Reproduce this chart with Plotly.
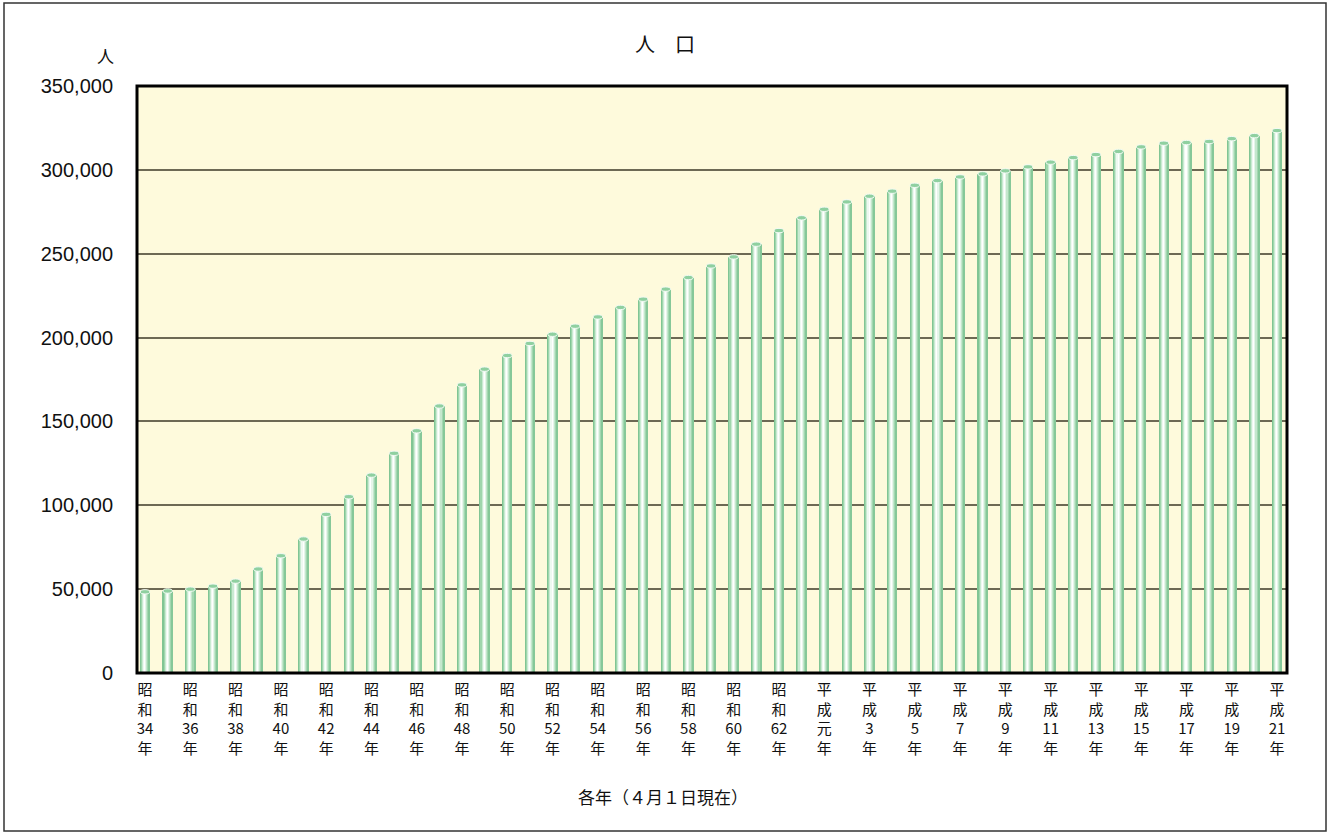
import plotly.graph_objects as go

# 人口 (各年4月1日現在)
years = (
    [f"昭和{n}年" for n in range(34, 64)]
    + ["平成元年"] + [f"平成{n}年" for n in range(2, 22)]
)
population = [
    48400, 48900, 50000, 51800, 54800, 62000, 69900, 79900, 94600, 105100,
    118000, 131000, 144400, 159200, 171800, 181200, 189300, 196500, 202000, 206800,
    212300, 218000, 222900, 228900, 235800, 242700, 248100, 255700, 263800, 271400,
    276500, 280900, 284300, 287300, 290800, 293600, 295800, 297600, 299400, 301800,
    304600, 307300, 309100, 311000, 313700, 315900, 316300, 316900, 318600, 320400,
    323400,
]
y_ticks = [0, 50000, 100000, 150000, 200000, 250000, 300000, 350000]

W, H = 1328, 833
M_L, M_R, M_T, M_B = 137, 41, 86, 160
PW, PH = W - M_L - M_R, H - M_T - M_B


def px(xp, yp):
    """Pixel position -> paper coordinates."""
    return (xp - M_L) / PW, (H - M_B - yp) / PH


xs = list(range(len(years)))


def stacked(label):
    # 昭和34年 -> 昭/和/34/年 (vertical label)
    era, rest = label[:2], label[2:-1]
    return "<br>".join([era[0], era[1], rest, "年"])


tick_vals = xs[::2]
tick_text = [stacked(years[i]) for i in tick_vals]

# cylinder shading, left to right
stripe_colors = ["#80c594", "#9fd6ac", "#c9ead2", "#eef9f1", "#ffffff",
                 "#e6f5ea", "#c4e7cd", "#a3d7b0", "#86c899"]
BAR_W = 0.42
sw = BAR_W / len(stripe_colors)

fig = go.Figure()
for k, col in enumerate(stripe_colors):
    fig.add_trace(go.Bar(
        x=xs, y=population, width=[sw] * len(xs),
        offset=-BAR_W / 2 + k * sw,
        marker=dict(color=col, line=dict(width=0)),
        hoverinfo="skip" if k else None,
        showlegend=False,
    ))

shapes = []
cap_h = 2600  # ellipse height in data units (~4px)
for x, v in zip(xs, population):
    shapes.append(dict(
        type="circle", xref="x", yref="y",
        x0=x - BAR_W / 2, x1=x + BAR_W / 2,
        y0=v - cap_h / 2, y1=v + cap_h / 2,
        fillcolor="#8fd0a0", line=dict(color="#f4fbf5", width=1),
        layer="above",
    ))

# plot frame
shapes.append(dict(type="rect", xref="paper", yref="paper", x0=0, x1=1, y0=0, y1=1,
                   line=dict(color="#000000", width=3), layer="above"))
# outer frame
fx0, fy0 = px(4, 831)
fx1, fy1 = px(1326, 3)
shapes.append(dict(type="rect", xref="paper", yref="paper", x0=fx0, x1=fx1, y0=fy0, y1=fy1,
                   line=dict(color="#333333", width=1.5), layer="above"))

FONT = "Liberation Sans, Arial, Noto Sans CJK JP"
CJK = "Noto Sans CJK JP"


def label(text, xp, yp, size):
    x, y = px(xp, yp)
    return dict(text=text, x=x, y=y, xref="paper", yref="paper", showarrow=False,
                xanchor="center", yanchor="middle",
                font=dict(size=size, color="#111111", family=CJK))


ann = [
    label("人　口", 665, 43, 20),
    label("人", 105, 56, 17),
    label("各年（４月１日現在）", 663, 796, 17),
]

fig.update_layout(
    width=W, height=H,
    margin=dict(l=M_L, r=M_R, t=M_T, b=M_B, autoexpand=False),
    paper_bgcolor="#ffffff", plot_bgcolor="#fefadc",
    barmode="overlay", bargap=0,
    shapes=shapes, annotations=ann,
    font=dict(family=FONT, color="#111111"),
    xaxis=dict(
        range=[-0.356, 50.44], tickmode="array", tickvals=tick_vals, ticktext=tick_text,
        tickfont=dict(size=15, family=CJK, color="#111111"),
        showgrid=False, zeroline=False, showline=False, tickangle=0,
        ticks="outside", ticklen=3, tickcolor="rgba(0,0,0,0)",
    ),
    yaxis=dict(
        range=[0, 350000], tickmode="array", tickvals=y_ticks,
        tickformat=",", tickfont=dict(size=20, color="#111111"),
        showgrid=True, gridcolor="#6d6954", gridwidth=2,
        zeroline=False, showline=False,
        ticks="outside", ticklen=19, tickcolor="rgba(0,0,0,0)",
    ),
)

fig.write_html("out.html")
